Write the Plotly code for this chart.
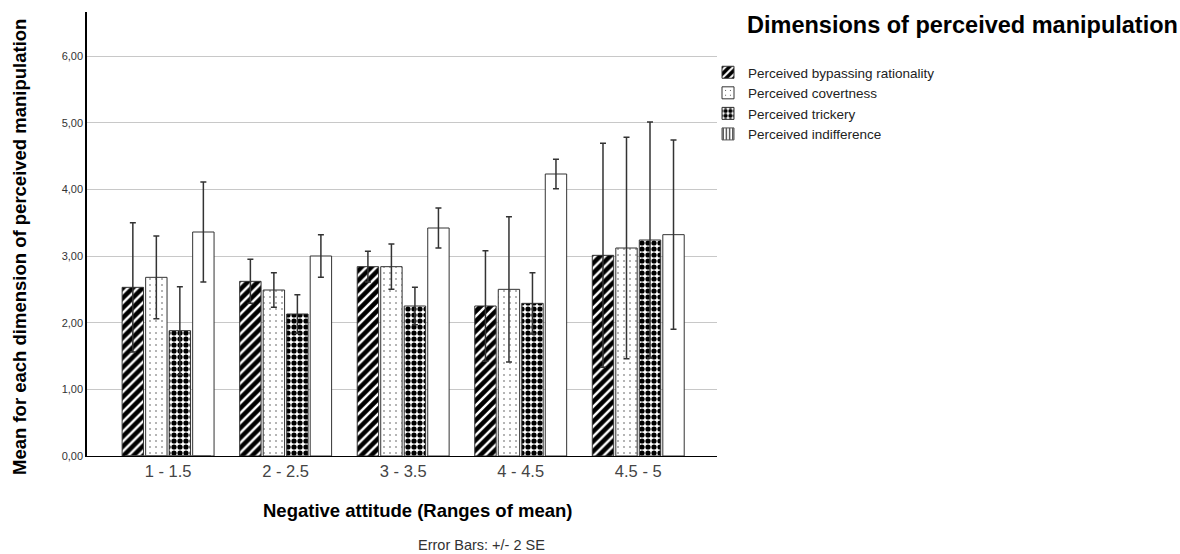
import plotly.graph_objects as go

categories = ["1 - 1.5", "2 - 2.5", "3 - 3.5", "4 - 4.5", "4.5 - 5"]
series_names = ["Perceived bypassing rationality", "Perceived covertness",
                "Perceived trickery", "Perceived indifference"]

bypassing = [2.53, 2.62, 2.84, 2.25, 3.01]
bypassing_err = [0.97, 0.33, 0.23, 0.83, 1.68]
covertness = [2.68, 2.49, 2.84, 2.50, 3.12]
covertness_err = [0.62, 0.26, 0.34, 1.09, 1.66]
trickery = [1.88, 2.13, 2.25, 2.29, 3.24]
trickery_err = [0.66, 0.29, 0.28, 0.46, 1.77]
indifference = [3.36, 3.00, 3.42, 4.23, 3.32]
indifference_err = [0.75, 0.32, 0.30, 0.22, 1.42]

y_ticks = [0, 1, 2, 3, 4, 5, 6]
y_tick_labels = ["0,00", "1,00", "2,00", "3,00", "4,00", "5,00", "6,00"]

values = [bypassing, covertness, trickery, indifference]
errors = [bypassing_err, covertness_err, trickery_err, indifference_err]
bar_colors = ["black", "white", "white", "white"]
patterns = [
    dict(shape="/", fgcolor="white", bgcolor="black", size=7, solidity=0.35, fgopacity=1),
    dict(shape=".", fgcolor="#333333", bgcolor="white", size=6, solidity=0.04, fgopacity=1),
    dict(shape=".", fgcolor="black", bgcolor="white", size=6, solidity=0.6, fgopacity=1),
    dict(shape=""),
]

fig = go.Figure()
for i in range(4):
    fig.add_trace(go.Bar(
        x=categories, y=values[i], name=series_names[i],
        showlegend=(i < 3),
        marker=dict(color=bar_colors[i], line=dict(color="#333333", width=1),
                    pattern=patterns[i]),
        error_y=dict(type="data", array=errors[i], visible=True,
                     color="#333333", thickness=1.5, width=3),
    ))

# legend-only entry for indifference (vertical lines icon)
fig.add_trace(go.Bar(
    x=[categories[0]], y=[0], name=series_names[3], xaxis="x2",
    marker=dict(color="white", line=dict(color="#555555", width=1),
                pattern=dict(shape="|", fgcolor="#333333", bgcolor="white",
                             size=4, solidity=0.4, fgopacity=1)),
    hoverinfo="skip",
))

PL, PR, PT, PB = 87, 717, 12, 456
W, H = PR - PL, PB - PT

def px(x):
    return (x - PL) / W

def py(y):
    return (PB - y) / H

fig.update_layout(
    width=1180, height=554,
    margin=dict(l=PL, r=1180 - PR, t=PT, b=554 - PB),
    paper_bgcolor="white", plot_bgcolor="white",
    barmode="group", bargap=0.2, bargroupgap=0.09,
    font=dict(family="Liberation Sans, Arial, sans-serif", color="#222222"),
    xaxis=dict(
        type="category", range=[-0.69, 4.67],
        showline=True, linecolor="black", linewidth=1,
        showgrid=False, ticks="",
        tickfont=dict(size=16.5, color="#444444"),
    ),
    xaxis2=dict(overlaying="x", visible=False, type="category",
                range=[-0.69, 4.67]),
    yaxis=dict(
        range=[0, 6.66], tickvals=y_ticks, ticktext=y_tick_labels,
        showline=True, linecolor="black", linewidth=1.5,
        showgrid=True, gridcolor="#c8c8c8", gridwidth=1,
        zeroline=False, ticks="",
        tickfont=dict(size=11, color="#333333"),
    ),
    legend=dict(
        x=px(708), xref="paper", xanchor="left",
        y=py(57), yanchor="top",
        font=dict(size=13.5, color="#222222"),
        tracegroupgap=0, itemwidth=30,
        bgcolor="rgba(0,0,0,0)",
    ),
    annotations=[
        dict(text="<b>Dimensions of perceived manipulation</b>",
             xref="paper", yref="paper", x=px(745), y=py(25),
             xanchor="left", yanchor="middle", showarrow=False,
             font=dict(size=23.5, color="black")),
        dict(text="<b>Negative attitude (Ranges of mean)</b>",
             xref="paper", yref="paper", x=px(417), y=py(510),
             xanchor="center", yanchor="middle", showarrow=False,
             font=dict(size=18.5, color="black")),
        dict(text="<b>Mean for each dimension of perceived manipulation</b>",
             xref="paper", yref="paper", x=px(19), y=py(247), textangle=-90,
             xanchor="center", yanchor="middle", showarrow=False,
             font=dict(size=18.5, color="black")),
        dict(text="Error Bars: +/- 2 SE", xref="paper", yref="paper",
             x=px(481), y=py(545), xanchor="center",
             yanchor="middle", showarrow=False,
             font=dict(size=14.5, color="#333333")),
    ],
)

fig.write_html("out.html")
